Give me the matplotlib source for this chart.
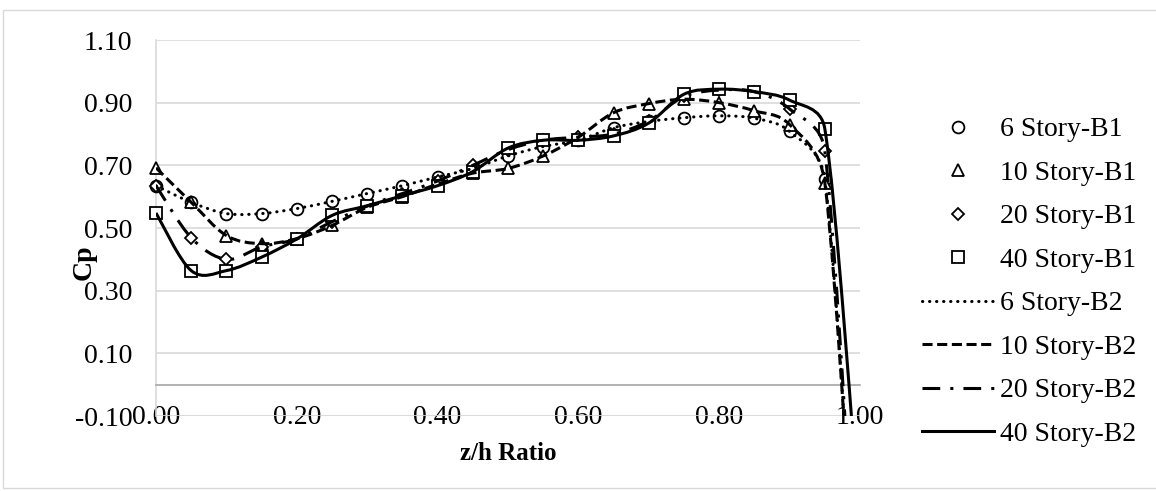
import numpy as np
import matplotlib
matplotlib.use("Agg")
import matplotlib.pyplot as plt
from matplotlib.path import Path
from matplotlib.patches import PathPatch, Rectangle
from matplotlib.lines import Line2D

# z/h positions of the measurement taps
z_h = [0.00, 0.05, 0.10, 0.15, 0.20, 0.25, 0.30, 0.35, 0.40, 0.45,
       0.50, 0.55, 0.60, 0.65, 0.70, 0.75, 0.80, 0.85, 0.90, 0.95]
z_h_b2 = z_h + [1.00]

# Cp, building B1 (markers)
cp_6_b1 = [0.635, 0.582, 0.546, 0.546, 0.562, 0.585, 0.610, 0.635, 0.663, 0.690,
           0.730, 0.760, 0.780, 0.820, 0.840, 0.852, 0.858, 0.850, 0.808, 0.656]
cp_10_b1 = [0.692, 0.582, 0.476, 0.450, 0.466, 0.508, 0.566, 0.600, 0.640, 0.675,
            0.690, 0.730, 0.790, 0.868, 0.897, 0.911, 0.900, 0.874, 0.830, 0.645]
cp_20_b1 = [0.635, 0.469, 0.400, 0.440, 0.465, 0.520, 0.570, 0.610, 0.650, 0.700,
            0.750, 0.780, 0.790, 0.800, 0.842, 0.920, 0.940, 0.935, 0.880, 0.746]
cp_40_b1 = [0.548, 0.364, 0.364, 0.407, 0.465, 0.540, 0.571, 0.603, 0.635, 0.680,
            0.755, 0.780, 0.780, 0.794, 0.835, 0.927, 0.943, 0.935, 0.908, 0.817]

# Cp, building B2 (smoothed lines)
cp_6_b2 = cp_6_b1 + [-0.90]
cp_10_b2 = cp_10_b1 + [-0.90]
cp_20_b2 = cp_20_b1 + [-0.90]
cp_40_b2 = cp_40_b1 + [-0.45]

labels_b1 = ["6 Story-B1", "10 Story-B1", "20 Story-B1", "40 Story-B1"]
labels_b2 = ["6 Story-B2", "10 Story-B2", "20 Story-B2", "40 Story-B2"]

x_ticks = [0.00, 0.20, 0.40, 0.60, 0.80, 1.00]
y_ticks = [-0.10, 0.10, 0.30, 0.50, 0.70, 0.90, 1.10]

plt.rcParams["font.family"] = ["Liberation Serif", "DejaVu Serif"]
FS = 20

fig = plt.figure(figsize=(11.56, 4.91), dpi=100)
ax = fig.add_axes([156 / 1156, 1 - 416 / 491, 704 / 1156, 376 / 491])
ax.set_xlim(0, 1.0)
ax.set_ylim(-0.10, 1.10)

# outer chart border
fig.patches.append(Rectangle((3 / 1156, 3 / 491), 1.2, 1 - 13 / 491,
                             transform=fig.transFigure, fill=False,
                             edgecolor="#D9D9D9", lw=1.0, zorder=0))

# pixels per data unit, used so the smoothing works in screen space
SX = 704.0 / 1.0
SY = 376.0 / 1.2


def smooth_path(xs, ys):
    """Bezier smoothing with control arms capped at half the segment."""
    pts = np.column_stack([np.asarray(xs) * SX, np.asarray(ys) * SY])
    n = len(pts)
    verts = [pts[0]]
    codes = [Path.MOVETO]
    for i in range(n - 1):
        p0 = pts[max(i - 1, 0)]
        p1 = pts[i]
        p2 = pts[i + 1]
        p3 = pts[min(i + 2, n - 1)]
        d12 = np.hypot(*(p2 - p1))
        d02 = np.hypot(*(p2 - p0))
        d13 = np.hypot(*(p3 - p1))
        f0 = 1 / 6 if d02 / 6 < d12 / 2 else (d12 / 2) / d02
        f1 = 1 / 6 if d13 / 6 < d12 / 2 else (d12 / 2) / d13
        c1 = p1 + (p2 - p0) * f0
        c2 = p2 - (p3 - p1) * f1
        verts += [c1, c2, p2]
        codes += [Path.CURVE4] * 3
    verts = np.array(verts)
    verts[:, 0] /= SX
    verts[:, 1] /= SY
    return Path(verts, codes)


lw = 2.2
styles_b2 = [
    dict(ls=(0, (0.1, 2.2)), cap="round"),
    dict(ls=(0, (3.3, 1.5)), cap="butt"),
    dict(ls=(0, (5.8, 3.3, 1.0, 3.3)), cap="butt"),
    dict(ls="-", cap="butt"),
]
markers_b1 = ["o", "^", "D", "s"]
msizes = [8.5, 8.5, 6.5, 9]

b1_series = [cp_6_b1, cp_10_b1, cp_20_b1, cp_40_b1]
b2_series = [cp_6_b2, cp_10_b2, cp_20_b2, cp_40_b2]

for ys, m, ms in zip(b1_series, markers_b1, msizes):
    ax.plot(z_h, ys, ls="none", marker=m, ms=ms, mfc="white", mec="black",
            mew=1.3, zorder=3, clip_on=False)

for ys, st in zip(b2_series, styles_b2):
    patch = PathPatch(smooth_path(z_h_b2, ys), fill=False, edgecolor="black",
                      lw=lw, linestyle=st["ls"], capstyle=st["cap"], zorder=4)
    ax.add_patch(patch)

for s in ["top", "right"]:
    ax.spines[s].set_visible(False)
ax.spines["left"].set_color("#D9D9D9")
ax.spines["left"].set_linewidth(1.2)
ax.spines["bottom"].set_position(("data", 0))
ax.spines["bottom"].set_color("#A6A6A6")
ax.spines["bottom"].set_linewidth(1.2)

ax.set_xticks(x_ticks)
ax.set_yticks(y_ticks)
ax.set_xticklabels([f"{v:.2f}" for v in x_ticks])
ax.set_yticklabels([f"{v:.2f}" for v in y_ticks])
ax.tick_params(axis="both", length=0, labelsize=FS)
ax.tick_params(axis="y", pad=17)
ax.tick_params(axis="x", pad=14.5)

ax.grid(axis="y", color="#D9D9D9", lw=1.2, zorder=0)
ax.set_axisbelow(True)
ax.axhline(-0.10, color="#D9D9D9", lw=1.2, zorder=0)

ax.set_xlabel("z/h Ratio", fontsize=18, fontweight="bold")
ax.xaxis.set_label_coords(0.5, -0.07)
ax.set_ylabel("Cp", fontsize=FS, fontweight="bold")
ax.yaxis.set_label_coords(-0.084, 0.41)

handles = []
for m, ms, lab in zip(markers_b1, msizes, labels_b1):
    handles.append(Line2D([], [], ls="none", marker=m, ms=ms, mfc="white",
                          mec="black", mew=1.3, label=lab))
for st, lab in zip(styles_b2, labels_b2):
    handles.append(Line2D([], [], color="black", lw=lw, ls=st["ls"],
                          dash_capstyle=st["cap"], label=lab))

fig.legend(handles=handles, loc="upper left",
           bbox_to_anchor=(922 / 1156, 1 - 117 / 491), frameon=False,
           fontsize=FS, handlelength=2.6, handletextpad=0.2,
           labelspacing=0.65, borderpad=0, borderaxespad=0)

fig.savefig("out.png", dpi=100)
